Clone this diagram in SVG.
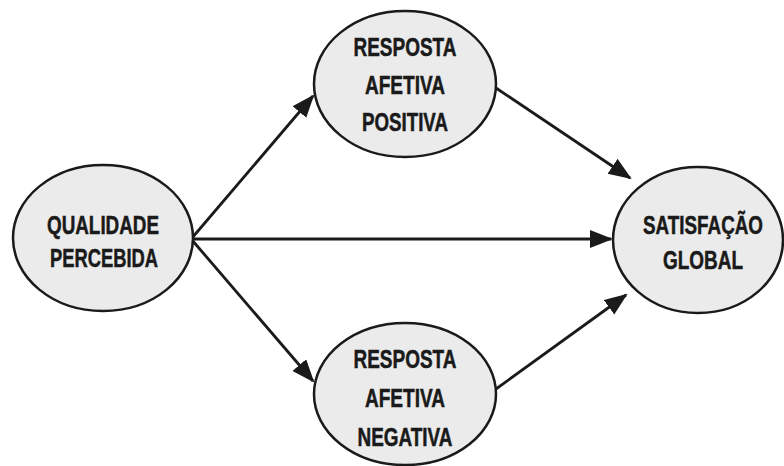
<svg xmlns="http://www.w3.org/2000/svg" width="784" height="466" viewBox="0 0 784 466">
  <style>
    .node ellipse { fill: #ebebeb; stroke: #1a1a1a; stroke-width: 2.5; }
    .node text { font-family: "Liberation Sans", Arial, sans-serif; font-weight: bold; font-size: 25px; fill: #1a1a1a; stroke: #1a1a1a; stroke-width: 0.5; text-anchor: middle; }
    .edges line { stroke: #1a1a1a; stroke-width: 2.8; marker-end: url(#arrow); }
  </style>
  <defs>
    <marker id="arrow" markerUnits="userSpaceOnUse" markerWidth="24" markerHeight="20" refX="21" refY="9" orient="auto">
      <path d="M0,0 L23,9 L0,18 z" fill="#1a1a1a"/>
    </marker>
  </defs>
  <rect width="784" height="466" fill="#ffffff"/>

  <g class="edges" id="connectors">
    <line x1="192" y1="238" x2="313" y2="96"/>
    <line x1="192" y1="239" x2="611" y2="239"/>
    <line x1="192" y1="240" x2="313" y2="381"/>
    <line x1="496" y1="88" x2="630" y2="178"/>
    <line x1="496" y1="389" x2="626" y2="295"/>
  </g>

  <g class="node" id="qualidade">
    <ellipse cx="103" cy="238" rx="90" ry="73"/>
    <text x="103" y="234" textLength="112" lengthAdjust="spacingAndGlyphs">QUALIDADE</text>
    <text x="104" y="267" textLength="108" lengthAdjust="spacingAndGlyphs">PERCEBIDA</text>
  </g>

  <g class="node" id="positiva">
    <ellipse cx="405" cy="84" rx="91" ry="73"/>
    <text x="405" y="56" textLength="103" lengthAdjust="spacingAndGlyphs">RESPOSTA</text>
    <text x="405" y="94" textLength="80" lengthAdjust="spacingAndGlyphs">AFETIVA</text>
    <text x="405" y="131" textLength="86" lengthAdjust="spacingAndGlyphs">POSITIVA</text>
  </g>

  <g class="node" id="negativa">
    <ellipse cx="405" cy="394" rx="91" ry="71"/>
    <text x="405" y="368" textLength="103" lengthAdjust="spacingAndGlyphs">RESPOSTA</text>
    <text x="405" y="407" textLength="80" lengthAdjust="spacingAndGlyphs">AFETIVA</text>
    <text x="405" y="446" textLength="95" lengthAdjust="spacingAndGlyphs">NEGATIVA</text>
  </g>

  <g class="node" id="satisfacao">
    <ellipse cx="698" cy="240" rx="85" ry="73"/>
    <text x="703" y="234" textLength="120" lengthAdjust="spacingAndGlyphs">SATISFAÇÃO</text>
    <text x="703" y="269" textLength="80" lengthAdjust="spacingAndGlyphs">GLOBAL</text>
  </g>
</svg>
